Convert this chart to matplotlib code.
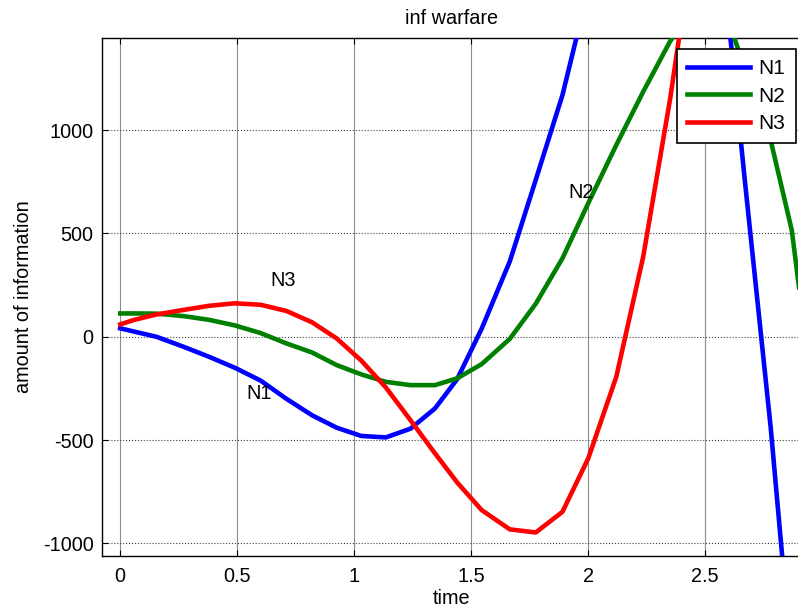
import matplotlib
matplotlib.use("Agg")
import matplotlib.pyplot as plt
from matplotlib.ticker import FormatStrFormatter

plt.rcParams["font.family"] = ["Liberation Sans", "DejaVu Sans"]

# solver output, shared time grid
time = [0, 0.06, 0.155, 0.27, 0.38, 0.49, 0.60, 0.71, 0.82, 0.925,
        1.03, 1.135, 1.24, 1.345, 1.44, 1.545, 1.665, 1.776, 1.89, 2.0,
        2.12, 2.235, 2.35, 2.46, 2.56, 2.67, 2.78, 2.87, 2.95]

n1 = [41, 25, 0, -48, -97, -150, -212, -300, -380, -440,
      -480, -487, -445, -347, -205, 40, 365, 760, 1170, 1680,
      2300, 2800, 2950, 2700, 1980, 750, -440, -1580, -2500]

n2 = [113, 113, 112, 100, 82, 55, 18, -32, -76, -137,
      -182, -218, -234, -234, -201, -132, -10, 160, 380, 646,
      928, 1186, 1430, 1600, 1650, 1300, 950, 516, -200]

n3 = [60, 82, 108, 130, 150, 162, 155, 125, 70, -8,
      -115, -245, -403, -564, -705, -839, -932, -947, -847, -589,
      -194, 387, 1150, 2000, 2900, 3600, 4100, 4400, 4500]

series = [("N1", n1, "#0000ff"), ("N2", n2, "#008000"), ("N3", n3, "#ff0000")]

# in-plot curve labels
label_pos = {"N1": (0.54, -275), "N2": (1.915, 700), "N3": (0.64, 270)}

FS = 14.3

fig = plt.figure(figsize=(7.98, 6.10), dpi=100)
ax = fig.add_axes([0.1278, 0.0885, 0.877, 0.8492])

for name, vals, col in series:
    ax.plot(time, vals, color=col, linewidth=3.3, label=name, zorder=3)

for name, (tx, ty) in label_pos.items():
    ax.text(tx, ty, name, fontsize=FS, ha="left", va="center", zorder=4)

ax.set_xlim(-0.078, 2.913)
ax.set_ylim(-1061, 1446)
ax.set_xticks([0, 0.5, 1, 1.5, 2, 2.5])
ax.set_yticks([-1000, -500, 0, 500, 1000])
ax.xaxis.set_major_formatter(FormatStrFormatter("%g"))
ax.yaxis.set_major_formatter(FormatStrFormatter("%g"))

# grid: vertical solid grey, horizontal dotted
ax.grid(True, axis="x", color="#8c8c8c", linestyle="-", linewidth=0.8, zorder=1)
ax.grid(True, axis="y", color="#444444", linestyle=":", linewidth=0.8, zorder=1)

ax.tick_params(direction="in", length=4, width=0.8, labelsize=FS,
               top=True, right=False, pad=8)
ax.tick_params(axis="y", pad=6)
for sp in ax.spines.values():
    sp.set_linewidth(1.0)
ax.spines["right"].set_visible(False)

ax.set_title("inf warfare", fontsize=FS, pad=10)
ax.set_xlabel("time", fontsize=FS, labelpad=2)
ax.set_ylabel("amount of information", fontsize=FS, labelpad=7)

leg = ax.legend(loc="upper left", bbox_to_anchor=(0.848, 0.9197),
                bbox_transform=fig.transFigure, fontsize=15,
                fancybox=False, framealpha=1, edgecolor="black",
                handlelength=3.0, handletextpad=0.43, labelspacing=0.4,
                borderpad=0.5, borderaxespad=0)
leg.get_frame().set_linewidth(1.2)
leg.set_zorder(5)

fig.savefig("out.png", dpi=100, facecolor="white")
